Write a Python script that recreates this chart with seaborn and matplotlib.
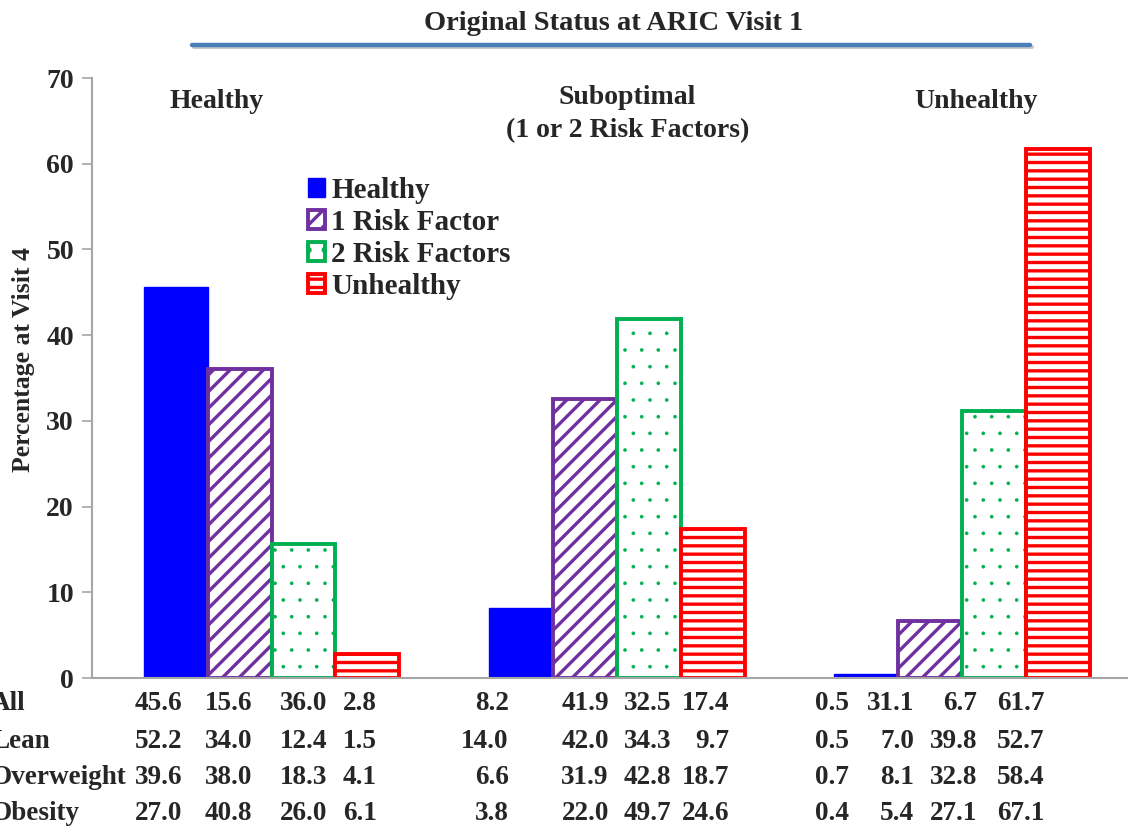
import matplotlib
matplotlib.use("Agg")
import matplotlib.pyplot as plt
from matplotlib.lines import Line2D
import matplotlib.transforms as mtransforms
import pandas as pd
import seaborn as sns

# data
groups = ["Healthy", "Suboptimal", "Unhealthy"]
group_titles = ["Healthy", "Suboptimal\n(1 or 2 Risk Factors)", "Unhealthy"]
categories = ["Healthy", "1 Risk Factor", "2 Risk Factors", "Unhealthy"]
healthy_vals = [45.6, 36.0, 15.6, 2.8]
suboptimal_vals = [8.2, 32.5, 41.9, 17.4]
unhealthy_vals = [0.5, 6.7, 31.1, 61.7]

row_labels = ["All", "Lean", "Overweight", "Obesity"]
row_all = ["45.6", "15.6", "36.0", "2.8", "8.2", "41.9", "32.5", "17.4", "0.5", "31.1", "6.7", "61.7"]
row_lean = ["52.2", "34.0", "12.4", "1.5", "14.0", "42.0", "34.3", "9.7", "0.5", "7.0", "39.8", "52.7"]
row_over = ["39.6", "38.0", "18.3", "4.1", "6.6", "31.9", "42.8", "18.7", "0.7", "8.1", "32.8", "58.4"]
row_obese = ["27.0", "40.8", "26.0", "6.1", "3.8", "22.0", "49.7", "24.6", "0.4", "5.4", "27.1", "67.1"]

colors = ["#0000ff", "#7030a0", "#00b050", "#ff0000"]
hatches = ["", "//", ".", "--"]

df = pd.DataFrame({
    "group": [g for g in groups for _ in categories],
    "category": categories * 3,
    "value": healthy_vals + suboptimal_vals + unhealthy_vals,
})

sns.set_style("white")
plt.rcParams["font.family"] = ["Liberation Serif", "DejaVu Serif"]
plt.rcParams["font.weight"] = "bold"
plt.rcParams["hatch.linewidth"] = 2.4

fig = plt.figure(figsize=(11.28, 8.3), dpi=100)
ax = fig.add_axes([92 / 1128, 1 - 678 / 830, 1 - 92 / 1128, 600 / 830])

sns.barplot(data=df, x="group", y="value", hue="category",
            order=groups, hue_order=categories, palette=colors,
            width=0.74, saturation=1, legend=False, ax=ax)

for cont, c, h in zip(ax.containers, colors, hatches):
    for bar in cont:
        bar.set_edgecolor(c)
        if h:
            bar.set_facecolor("white")
            bar.set_hatch(h)
            bar.set_linewidth(2.8)
            if h == "." and hasattr(bar, "set_hatch_linewidth"):
                bar.set_hatch_linewidth(0.2)

ax.set_ylim(0, 70)
ax.set_xlim(-0.52, 2.48)
ax.set_yticks(range(0, 71, 10))
ax.tick_params(axis="y", labelsize=20, length=7, width=1.2, color="#a6a6a6", pad=6, left=True)
ax.tick_params(axis="x", bottom=False, labelbottom=False)
ax.set_xlabel("")
ax.set_ylabel("")
for s in ["top", "right"]:
    ax.spines[s].set_visible(False)
for s in ["left", "bottom"]:
    ax.spines[s].set_color("#a6a6a6")
    ax.spines[s].set_linewidth(1.5)

# group titles
title_x = [-0.16, 1.03, 2.04]
title_y = [67.2, 65.8, 67.2]
for x, y, t in zip(title_x, title_y, group_titles):
    ax.text(x, y, t, ha="center", va="center", fontsize=20, fontweight="bold",
            linespacing=1.4)

ax.legend(handles=ax.containers, labels=categories, loc="upper left",
          bbox_to_anchor=(296 / 1128, 1 - 165 / 830), bbox_transform=fig.transFigure,
          frameon=False, fontsize=21, handlelength=0.6, handleheight=0.6,
          handletextpad=0.2, labelspacing=0.17, borderaxespad=0)

# top title and rule
fig.text(614 / 1128, 1 - 24 / 830, "Original Status at ARIC Visit 1",
         ha="center", va="center", fontsize=20.5, fontweight="bold")
fig.add_artist(Line2D([194 / 1128, 1032 / 1128], [1 - 47 / 830, 1 - 47 / 830],
                      transform=fig.transFigure, color="#c8c8c8", lw=3))
fig.add_artist(Line2D([192 / 1128, 1030 / 1128], [1 - 45 / 830, 1 - 45 / 830],
                      transform=fig.transFigure, color="#4a7ebb", lw=3.2))

fig.text(24 / 1128, 1 - 360 / 830, "Percentage at Visit 4", rotation=90,
         ha="center", va="center", fontsize=18.5, fontweight="bold")

# table under the axis
trans = mtransforms.blended_transform_factory(ax.transData, fig.transFigure)
row_y = [703, 741, 777, 813]
col_shift = [0.019, 0.037, 0.070, 0.027,
             -0.036, 0.069, 0.064, 0.047,
             -0.050, -0.047, -0.049, -0.040]
for rl, vals, py in zip(row_labels, [row_all, row_lean, row_over, row_obese], row_y):
    fig.text(-9 / 1128, 1 - py / 830, rl, ha="left", va="center",
             fontsize=19.5, fontweight="bold")
    for k, v in enumerate(vals):
        g, j = divmod(k, 4)
        x = g + (j - 1.5) * 0.185 + col_shift[k]
        ax.text(x, 1 - py / 830, v, transform=trans, ha="right", va="center",
                fontsize=19.5, fontweight="bold", clip_on=False)

fig.savefig("out.png", dpi=100)
